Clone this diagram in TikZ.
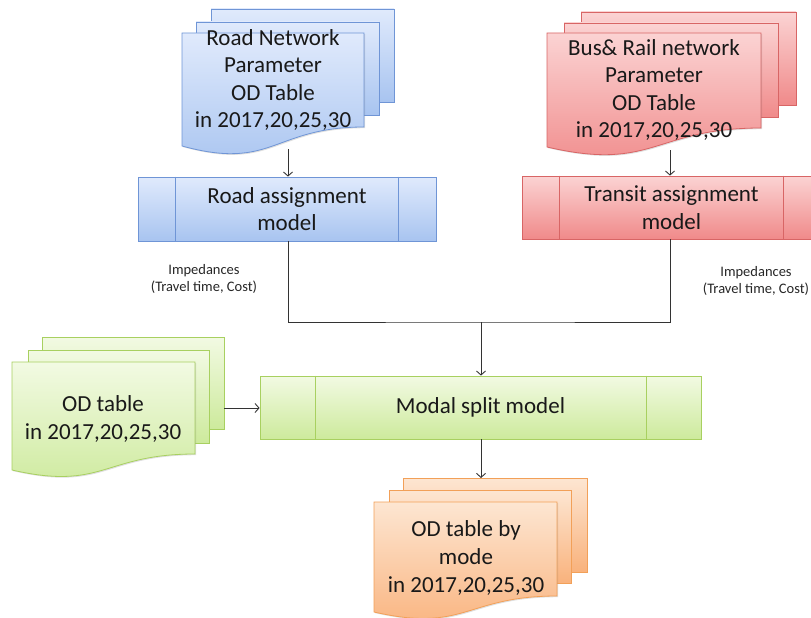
\documentclass[tikz,border=0pt]{standalone}
\usepackage{fontspec}
\setmainfont{Carlito}
\usetikzlibrary{arrows.meta,shadows}
\definecolor{bluetop}{HTML}{E0EAFC}
\definecolor{bluebot}{HTML}{A8C4F0}
\definecolor{blueline}{HTML}{6F95D6}
\definecolor{redtop}{HTML}{FBD3D3}
\definecolor{redbot}{HTML}{F08A8A}
\definecolor{redline}{HTML}{D86565}
\definecolor{greentop}{HTML}{F2FAE3}
\definecolor{greenbot}{HTML}{CDEA9C}
\definecolor{greenline}{HTML}{A8D060}
\definecolor{orangetop}{HTML}{FDE6D2}
\definecolor{orangebot}{HTML}{F9B27C}
\definecolor{orangeline}{HTML}{F2A058}
\definecolor{linegray}{HTML}{333333}
% document sheet: x, top, width, right-bottom y, left-bottom y, style
\newcommand\docsheet[6]{%
  \path[#6] (#1,#2) -- ({#1+#3},#2) -- ({#1+#3},#4)
    .. controls ({#1+0.5*#3},#4) and ({#1+0.5*#3},{#5+1.316*(#5-#4)}) .. (#1,#5) -- cycle;}
\newcommand\backsheet[5]{%
  \path[#5] (#1,#2) rectangle ({#1+#3},#4);}
\tikzset{
  shd/.style={drop shadow={shadow xshift=1.2pt,shadow yshift=-1.2pt,opacity=0.25}},
  bluefill/.style={draw=blueline,line width=0.8pt,top color=bluetop,bottom color=bluebot,shd},
  redfill/.style={draw=redline,line width=0.8pt,top color=redtop,bottom color=redbot,shd},
  greenfill/.style={draw=greenline,line width=0.8pt,top color=greentop,bottom color=greenbot,shd},
  orangefill/.style={draw=orangeline,line width=0.8pt,top color=orangetop,bottom color=orangebot,shd},
  doctext/.style={align=center,inner sep=0pt,font=\fontsize{23}{27.6}\selectfont,text=black!90},
  proc/.style={align=center,inner sep=0pt,font=\fontsize{23}{27.6}\selectfont,text=black!90},
  lbl/.style={align=center,inner sep=0pt,font=\fontsize{14.5}{16.5}\selectfont,text=black!85},
  plain/.style={draw=linegray,line width=0.9pt},
  conn/.style={draw=linegray,line width=0.9pt,-{Straight Barb[length=4pt,width=9pt]}},
}
\begin{document}
\begin{tikzpicture}[x=1pt,y=-1pt]
\useasboundingbox (0,0) rectangle (811,618);
\clip (0,0) rectangle (811,618);
% ---------- Road documents (blue)
\backsheet{211}{9}{183}{102}{bluefill}
\backsheet{196}{22}{183}{115}{bluefill}
\docsheet{182}{33}{182}{127}{146}{bluefill}
\node[doctext] (roaddoc) at (273,80) {Road Network\\Parameter\\OD Table\\in 2017,20,25,30};
% ---------- Transit documents (red)
\backsheet{581}{12}{215}{105}{redfill}
\backsheet{564}{23}{214}{117}{redfill}
\docsheet{547}{33}{214}{128}{147}{redfill}
\node[doctext] (transdoc) at (654,90) {Bus\& Rail network\\Parameter\\OD Table\\in 2017,20,25,30};
% ---------- OD table documents (green)
\backsheet{42}{337}{182}{429}{greenfill}
\backsheet{28}{350}{181}{443}{greenfill}
\docsheet{12}{362}{183}{454}{470}{greenfill}
\node[doctext] (oddoc) at (103,419) {OD table\\in 2017,20,25,30};
% ---------- Output documents (orange)
\backsheet{403}{478}{184}{572}{orangefill}
\backsheet{389}{490}{182}{583}{orangefill}
\docsheet{374}{502}{183}{596}{612}{orangefill}
\node[doctext] (outdoc) at (466,558) {OD table by\\mode\\in 2017,20,25,30};
% ---------- process boxes
\node[proc,bluefill,minimum width=298pt,minimum height=64pt] (road) at (287,209) {Road assignment\\model};
\draw[blueline,line width=0.8pt] ([xshift=38pt]road.north west) -- ([xshift=38pt]road.south west)
  ([xshift=-38pt]road.north east) -- ([xshift=-38pt]road.south east);
\node[proc,redfill,minimum width=299pt,minimum height=63pt] (trans) at (671.5,207.5) {Transit assignment\\model};
\draw[redline,line width=0.8pt] ([xshift=38pt]trans.north west) -- ([xshift=38pt]trans.south west)
  ([xshift=-38pt]trans.north east) -- ([xshift=-38pt]trans.south east);
\node[proc,greenfill,minimum width=441pt,minimum height=63pt] (modal) at (480.5,407.5) {Modal split model};
\draw[greenline,line width=0.8pt] ([xshift=56pt]modal.north west) -- ([xshift=56pt]modal.south west)
  ([xshift=-55pt]modal.north east) -- ([xshift=-55pt]modal.south east);
% ---------- labels
\node[lbl] (imp1) at (204,279) {Impedances\\(Travel time, Cost)};
\node[lbl] (imp2) at (756,281) {Impedances\\(Travel time, Cost)};
% ---------- connectors
\coordinate (roadout) at (288,149);
\coordinate (transout) at (670,150);
\coordinate (odout) at (224,408);
\coordinate (jn) at (481,322);
\draw[conn] (roadout) -- (roadout |- road.north);
\draw[conn] (transout) -- (transout |- trans.north);
\draw[plain] (roadout |- road.south) |- (jn) -| (transout |- trans.south);
\draw[conn] (jn) -- (jn |- modal.north);
\draw[conn] (odout) -- (odout -| modal.west);
\draw[conn] (jn |- modal.south) -- (jn |- 0,478);
\end{tikzpicture}
\end{document}
